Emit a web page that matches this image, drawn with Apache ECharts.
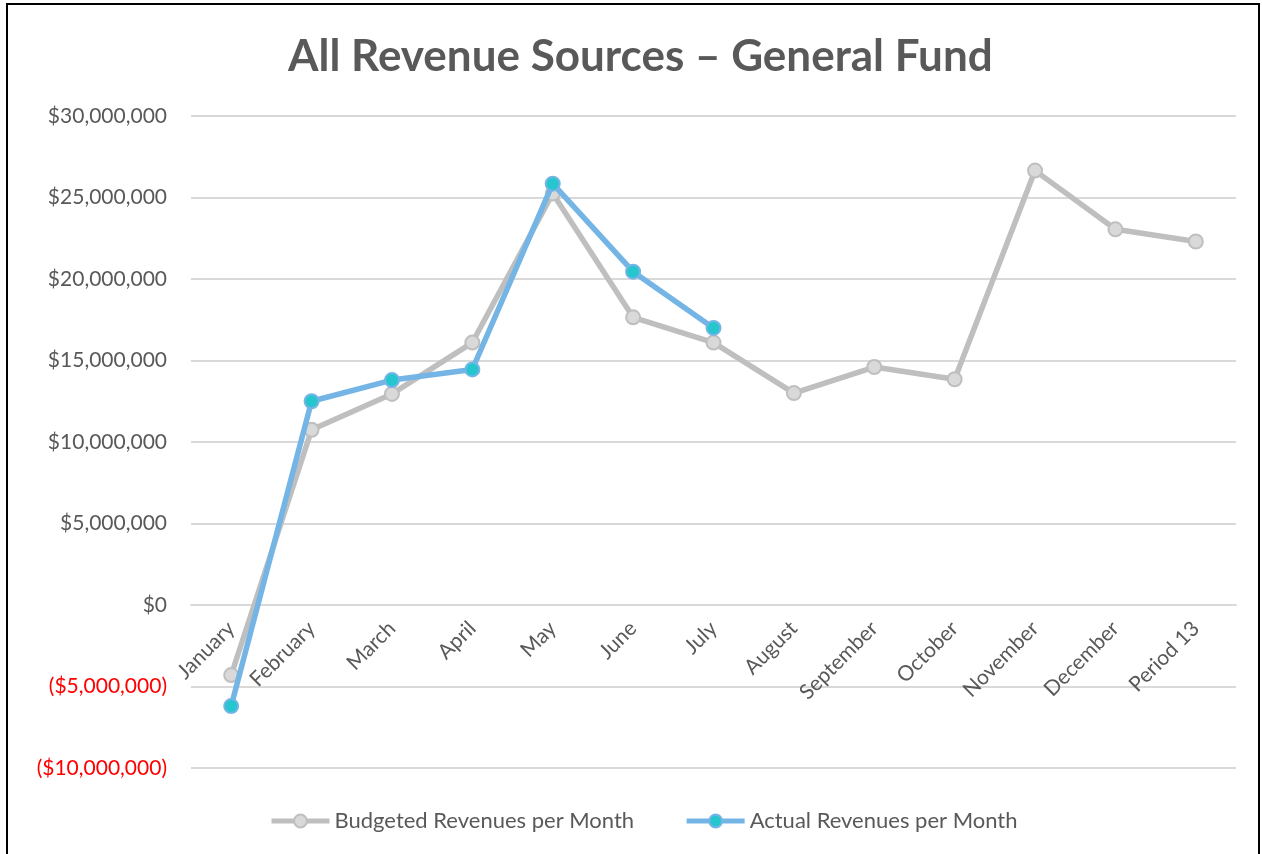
<!DOCTYPE html>
<html>
<head>
<meta charset="utf-8">
<script src="https://cdn.jsdelivr.net/npm/echarts@6/dist/echarts.min.js"></script>
<style>
  html, body { margin: 0; padding: 0; background: #fff; }
  #frame { position: absolute; left: 6px; top: 3px; width: 1250px; height: 851px;
           border-left: 2px solid #000; border-top: 2px solid #000; border-right: 2px solid #000; }
  #main { position: absolute; left: 0; top: 0; width: 1262px; height: 854px; }
</style>
</head>
<body>
<div id="frame"></div>
<div id="main"></div>
<script>
var months = ['January', 'February', 'March', 'April', 'May', 'June', 'July',
  'August', 'September', 'October', 'November', 'December', 'Period 13'];
var budgeted = [-4300000, 10750000, 12950000, 16100000, 25250000, 17650000, 16100000,
  13000000, 14600000, 13850000, 26650000, 23050000, 22300000];
var actual = [-6200000, 12500000, 13800000, 14450000, 25850000, 20450000, 17000000];
var yTicks = [-10000000, -5000000, 0, 5000000, 10000000, 15000000, 20000000, 25000000, 30000000];

var font = 'Lato';

function money(v) {
  var s = '$' + Math.abs(v).toLocaleString('en-US');
  return v < 0 ? '{neg|(' + s + ')}' : s;
}

var myChart = echarts.init(document.getElementById('main'));
myChart.setOption({
  animation: false,
  title: {
    text: 'All Revenue Sources \u2013 General Fund',
    left: 283,
    top: 30,
    textStyle: { fontFamily: font, fontSize: 44, fontWeight: 'bold', color: '#595959' }
  },
  grid: { left: 191, right: 26, top: 116, bottom: 86, containLabel: false },
  legend: {
    bottom: 17,
    left: 264,
    itemWidth: 58,
    itemHeight: 16,
    itemGap: 50,
    lineStyle: { width: 5 },
    textStyle: { fontFamily: font, fontSize: 22, color: '#595959' },
    data: ['Budgeted Revenues per Month', 'Actual Revenues per Month']
  },
  xAxis: {
    type: 'category',
    data: months,
    boundaryGap: true,
    offset: -163,
    axisLine: { onZero: false, lineStyle: { color: '#D9D9D9', width: 2 } },
    axisTick: { show: false },
    axisLabel: {
      rotate: 45, margin: 20, interval: 0,
      fontFamily: font, fontSize: 21, color: '#595959'
    }
  },
  yAxis: {
    type: 'value',
    min: yTicks[0],
    max: yTicks[yTicks.length - 1],
    interval: 5000000,
    axisLine: { show: false },
    axisTick: { show: false },
    splitLine: { lineStyle: { color: '#D9D9D9', width: 2 } },
    axisLabel: {
      margin: 24,
      fontFamily: font, fontSize: 21, color: '#595959',
      formatter: money,
      rich: { neg: { color: '#FF0000', fontFamily: font, fontSize: 21 } }
    }
  },
  series: [
    {
      name: 'Budgeted Revenues per Month',
      type: 'line',
      data: budgeted,
      symbol: 'circle',
      symbolSize: 14,
      lineStyle: { color: '#BFBFBF', width: 5.5 },
      itemStyle: { color: '#D9D9D9', borderColor: '#BFBFBF', borderWidth: 2 },
      z: 2
    },
    {
      name: 'Actual Revenues per Month',
      type: 'line',
      data: actual,
      symbol: 'circle',
      symbolSize: 14,
      lineStyle: { color: '#74B5E6', width: 5.5 },
      itemStyle: { color: '#26C6CE', borderColor: '#74B5E6', borderWidth: 2 },
      z: 3
    }
  ]
});
</script>
</body>
</html>
